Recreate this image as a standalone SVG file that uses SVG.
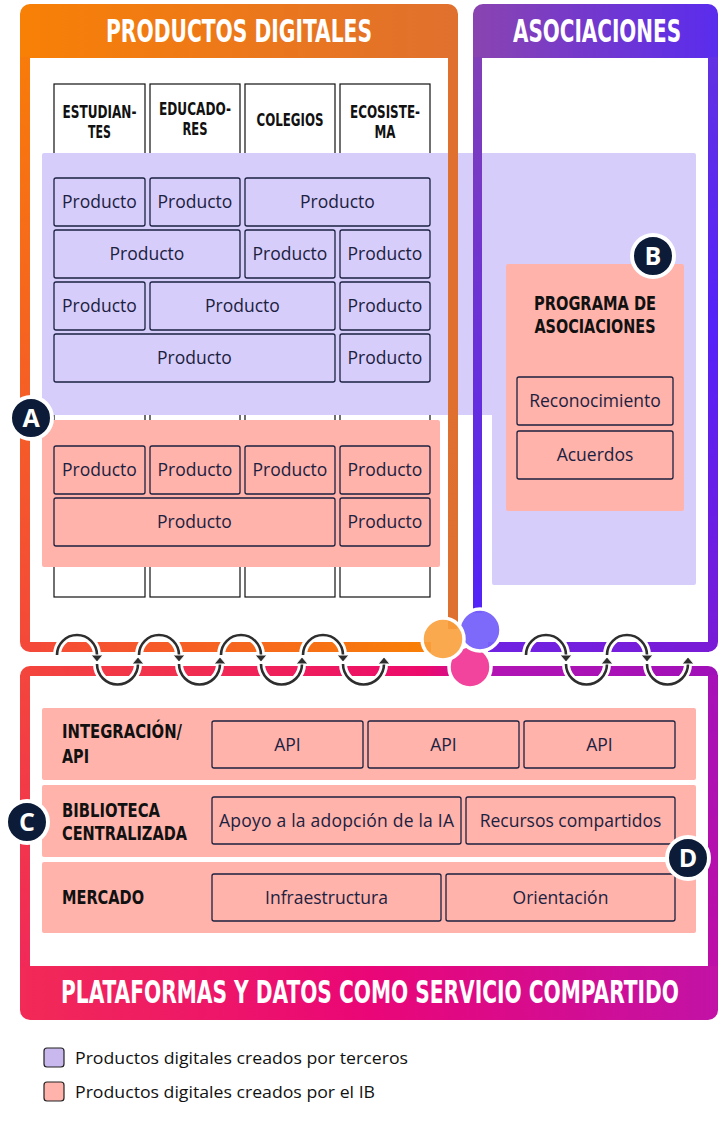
<svg xmlns="http://www.w3.org/2000/svg" width="720" height="1130" viewBox="0 0 720 1130">
<style>
.cond{font-family:"Liberation Sans Narrow","DejaVu Sans Condensed","Liberation Sans",sans-serif;font-weight:700}
.hd{fill:#fff;font-size:21px}
.col{fill:#111;font-size:17px}
.lbl{fill:#111;font-size:20px}
.txt{font-family:"Open Sans","Noto Sans","Liberation Sans",sans-serif;font-size:17.5px;fill:#1b2140;text-anchor:middle}
.lg{font-family:"Open Sans","Noto Sans","Liberation Sans",sans-serif;font-size:17px;fill:#111}
.box{fill:none;stroke:#1b2140;stroke-width:1.3}
.colbox{fill:#fff;stroke:#111;stroke-width:1.2}
.pink{fill:#ffb3ab}
.lav{fill:#d7cdfb}
.halo{fill:none;stroke:#fff;stroke-width:8}
.arc{fill:none;stroke:#2e2e2e;stroke-width:2.6}
.ah{fill:#2e2e2e;stroke:#fff;stroke-width:1}
.bdg{fill:#0c1c38;stroke:#fff;stroke-width:4}
.bt{font-family:"Open Sans","Noto Sans","Liberation Sans",sans-serif;font-weight:700;font-size:25px;fill:#fff;text-anchor:middle}
</style>
<defs>
<linearGradient id="gOH" gradientUnits="userSpaceOnUse" x1="20" y1="0" x2="458" y2="0"><stop offset="0" stop-color="#f88006"/><stop offset="1" stop-color="#e0702e"/></linearGradient>
<linearGradient id="gOL" gradientUnits="userSpaceOnUse" x1="0" y1="4" x2="0" y2="652"><stop offset="0" stop-color="#f88006"/><stop offset="1" stop-color="#f4483a"/></linearGradient>
<linearGradient id="gOB" gradientUnits="userSpaceOnUse" x1="20" y1="0" x2="430" y2="0"><stop offset="0" stop-color="#f4483a"/><stop offset="1" stop-color="#f88006"/></linearGradient>
<linearGradient id="gOR" gradientUnits="userSpaceOnUse" x1="0" y1="4" x2="0" y2="630"><stop offset="0" stop-color="#e0702e"/><stop offset="1" stop-color="#de7030"/></linearGradient>
<linearGradient id="gPH" gradientUnits="userSpaceOnUse" x1="473" y1="0" x2="718" y2="0"><stop offset="0" stop-color="#8a44b0"/><stop offset="1" stop-color="#5a2ced"/></linearGradient>
<linearGradient id="gPL" gradientUnits="userSpaceOnUse" x1="0" y1="4" x2="0" y2="612"><stop offset="0" stop-color="#8642b2"/><stop offset="1" stop-color="#5222f8"/></linearGradient>
<linearGradient id="gPR" gradientUnits="userSpaceOnUse" x1="0" y1="4" x2="0" y2="652"><stop offset="0" stop-color="#6434de"/><stop offset="0.5" stop-color="#5522f8"/><stop offset="1" stop-color="#7a1bd6"/></linearGradient>
<linearGradient id="gPB" gradientUnits="userSpaceOnUse" x1="488" y1="0" x2="718" y2="0"><stop offset="0" stop-color="#6f22e2"/><stop offset="1" stop-color="#7a1bd6"/></linearGradient>
<linearGradient id="gBT" gradientUnits="userSpaceOnUse" x1="20" y1="0" x2="718" y2="0"><stop offset="0" stop-color="#f4463c"/><stop offset="0.58" stop-color="#ec0a6c"/><stop offset="0.68" stop-color="#b214b4"/><stop offset="1" stop-color="#a010b8"/></linearGradient>
<linearGradient id="gBL" gradientUnits="userSpaceOnUse" x1="0" y1="666" x2="0" y2="1020"><stop offset="0" stop-color="#f4463c"/><stop offset="1" stop-color="#f0245e"/></linearGradient>
<linearGradient id="gBR" gradientUnits="userSpaceOnUse" x1="0" y1="666" x2="0" y2="1020"><stop offset="0" stop-color="#a512b8"/><stop offset="1" stop-color="#c20ea4"/></linearGradient>
<linearGradient id="gBF" gradientUnits="userSpaceOnUse" x1="20" y1="0" x2="718" y2="0"><stop offset="0" stop-color="#f22a56"/><stop offset="0.5" stop-color="#ea0677"/><stop offset="1" stop-color="#c212a6"/></linearGradient>
</defs>
<rect width="720" height="1130" fill="#fff"/>

<g id="columns">
<rect class="colbox" x="54" y="84" width="91" height="513"/>
<rect class="colbox" x="150" y="84" width="90" height="513"/>
<rect class="colbox" x="245" y="84" width="90" height="513"/>
<rect class="colbox" x="340" y="84" width="90" height="513"/>
<text class="cond col" x="99.5" y="118" text-anchor="middle" textLength="74" lengthAdjust="spacingAndGlyphs">ESTUDIAN-</text>
<text class="cond col" x="99.5" y="138" text-anchor="middle" textLength="23" lengthAdjust="spacingAndGlyphs">TES</text>
<text class="cond col" x="195" y="115" text-anchor="middle" textLength="72" lengthAdjust="spacingAndGlyphs">EDUCADO-</text>
<text class="cond col" x="195" y="135" text-anchor="middle" textLength="25" lengthAdjust="spacingAndGlyphs">RES</text>
<text class="cond col" x="290" y="126" text-anchor="middle" textLength="67" lengthAdjust="spacingAndGlyphs">COLEGIOS</text>
<text class="cond col" x="385" y="118" text-anchor="middle" textLength="70" lengthAdjust="spacingAndGlyphs">ECOSISTE-</text>
<text class="cond col" x="385" y="138" text-anchor="middle" textLength="21" lengthAdjust="spacingAndGlyphs">MA</text>
</g>

<g id="third-party-products">
<path class="lav" d="M42,155 Q42,153 44,153 H694 Q696,153 696,155 V583 Q696,585 694,585 H494 Q492,585 492,583 V415 H44 Q42,415 42,413 Z"/>
<rect class="box" x="54" y="178" width="91" height="48" rx="2"/><text class="txt" x="99.5" y="207.5">Producto</text>
<rect class="box" x="150" y="178" width="90" height="48" rx="2"/><text class="txt" x="195" y="207.5">Producto</text>
<rect class="box" x="245" y="178" width="185" height="48" rx="2"/><text class="txt" x="337.5" y="207.5">Producto</text>
<rect class="box" x="54" y="230" width="186" height="48" rx="2"/><text class="txt" x="147" y="259.5">Producto</text>
<rect class="box" x="245" y="230" width="90" height="48" rx="2"/><text class="txt" x="290" y="259.5">Producto</text>
<rect class="box" x="340" y="230" width="90" height="48" rx="2"/><text class="txt" x="385" y="259.5">Producto</text>
<rect class="box" x="54" y="282" width="91" height="48" rx="2"/><text class="txt" x="99.5" y="311.5">Producto</text>
<rect class="box" x="150" y="282" width="185" height="48" rx="2"/><text class="txt" x="242.5" y="311.5">Producto</text>
<rect class="box" x="340" y="282" width="90" height="48" rx="2"/><text class="txt" x="385" y="311.5">Producto</text>
<rect class="box" x="54" y="334" width="281" height="48" rx="2"/><text class="txt" x="194.5" y="363.5">Producto</text>
<rect class="box" x="340" y="334" width="90" height="48" rx="2"/><text class="txt" x="385" y="363.5">Producto</text>
</g>

<g id="ib-products">
<rect class="pink" x="42" y="420" width="398" height="147" rx="2"/>
<rect class="box" x="54" y="446" width="91" height="48" rx="2"/><text class="txt" x="99.5" y="475.5">Producto</text>
<rect class="box" x="150" y="446" width="90" height="48" rx="2"/><text class="txt" x="195" y="475.5">Producto</text>
<rect class="box" x="245" y="446" width="90" height="48" rx="2"/><text class="txt" x="290" y="475.5">Producto</text>
<rect class="box" x="340" y="446" width="90" height="48" rx="2"/><text class="txt" x="385" y="475.5">Producto</text>
<rect class="box" x="54" y="498" width="281" height="48" rx="2"/><text class="txt" x="194.5" y="527.5">Producto</text>
<rect class="box" x="340" y="498" width="90" height="48" rx="2"/><text class="txt" x="385" y="527.5">Producto</text>
</g>

<g id="programa-asociaciones">
<rect class="pink" x="506" y="264" width="178" height="247" rx="2"/>
<text class="cond lbl" x="595" y="310" text-anchor="middle" textLength="122" lengthAdjust="spacingAndGlyphs">PROGRAMA DE</text>
<text class="cond lbl" x="595" y="333" text-anchor="middle" textLength="121" lengthAdjust="spacingAndGlyphs">ASOCIACIONES</text>
<rect class="box" x="517" y="377" width="156" height="48" rx="2"/><text class="txt" x="595" y="406.5">Reconocimiento</text>
<rect class="box" x="517" y="431" width="156" height="48" rx="2"/><text class="txt" x="595" y="460.5">Acuerdos</text>
</g>

<g id="panel-productos-digitales">
<path fill="url(#gOH)" d="M20,58 V14 A10,10 0 0 1 30,4 H448 A10,10 0 0 1 458,14 V58 Z"/>
<path fill="url(#gOL)" d="M20,57 H30 V642 H42 V652 H30 A10,10 0 0 1 20,642 Z"/>
<rect fill="url(#gOB)" x="41" y="642" width="390" height="10"/>
<rect fill="url(#gOR)" x="448" y="57" width="10" height="572"/>
<text class="cond hd" transform="translate(239,42) scale(1,1.55)" text-anchor="middle" textLength="266" lengthAdjust="spacingAndGlyphs">PRODUCTOS DIGITALES</text>
</g>

<g id="panel-asociaciones">
<path fill="url(#gPH)" d="M473,58 V14 A10,10 0 0 1 483,4 H708 A10,10 0 0 1 718,14 V58 Z"/>
<rect fill="url(#gPL)" x="473" y="57" width="9" height="556"/>
<path fill="url(#gPR)" d="M708,57 H718 V642 A10,10 0 0 1 708,652 Z"/>
<rect fill="url(#gPB)" x="488" y="642" width="221" height="10"/>
<text class="cond hd" transform="translate(597,42) scale(1,1.55)" text-anchor="middle" textLength="168" lengthAdjust="spacingAndGlyphs">ASOCIACIONES</text>
</g>

<g id="panel-plataformas">
<path fill="url(#gBT)" d="M20,676 A10,10 0 0 1 30,666 H708 A10,10 0 0 1 718,676 Z"/>
<rect fill="url(#gBL)" x="20" y="675" width="10" height="292"/>
<rect fill="url(#gBR)" x="708" y="675" width="10" height="292"/>
<path fill="url(#gBF)" d="M20,966 H718 V1010 A10,10 0 0 1 708,1020 H30 A10,10 0 0 1 20,1010 Z"/>
<text class="cond hd" transform="translate(370,1003) scale(1,1.55)" text-anchor="middle" textLength="618" lengthAdjust="spacingAndGlyphs">PLATAFORMAS Y DATOS COMO SERVICIO COMPARTIDO</text>
</g>

<g id="row-integracion">
<rect class="pink" x="42" y="708" width="654" height="72" rx="2"/>
<text class="cond lbl" x="62" y="738" textLength="120" lengthAdjust="spacingAndGlyphs">INTEGRACIÓN/</text>
<text class="cond lbl" x="62" y="763" textLength="27" lengthAdjust="spacingAndGlyphs">API</text>
<rect class="box" x="212" y="721" width="151" height="47" rx="2"/><text class="txt" x="287.5" y="750.5">API</text>
<rect class="box" x="368" y="721" width="151" height="47" rx="2"/><text class="txt" x="443.5" y="750.5">API</text>
<rect class="box" x="524" y="721" width="151" height="47" rx="2"/><text class="txt" x="599.5" y="750.5">API</text>
</g>

<g id="row-biblioteca">
<rect class="pink" x="42" y="785" width="654" height="72" rx="2"/>
<text class="cond lbl" x="62" y="817" textLength="98" lengthAdjust="spacingAndGlyphs">BIBLIOTECA</text>
<text class="cond lbl" x="62" y="840" textLength="125" lengthAdjust="spacingAndGlyphs">CENTRALIZADA</text>
<rect class="box" x="212" y="797" width="249" height="47" rx="2"/><text class="txt" x="336.5" y="826.5" textLength="235" lengthAdjust="spacing">Apoyo a la adopción de la IA</text>
<rect class="box" x="466" y="797" width="209" height="47" rx="2"/><text class="txt" x="570.5" y="826.5">Recursos compartidos</text>
</g>

<g id="row-mercado">
<rect class="pink" x="42" y="862" width="654" height="71" rx="2"/>
<text class="cond lbl" x="62" y="904" textLength="82" lengthAdjust="spacingAndGlyphs">MERCADO</text>
<rect class="box" x="212" y="874" width="229" height="47" rx="2"/><text class="txt" x="326.5" y="903.5">Infraestructura</text>
<rect class="box" x="446" y="874" width="229" height="47" rx="2"/><text class="txt" x="560.5" y="903.5">Orientación</text>
</g>

<g id="connectors">
<g id="halos">
<path class="halo" d="M57,655 A20,20 0 0 1 97,655 M139,655 A20,20 0 0 1 179,655 M221,655 A20,20 0 0 1 261,655 M303,655 A20,20 0 0 1 343,655 M526,655 A20,20 0 0 1 566,655 M607,655 A20,20 0 0 1 647,655"/>
<path class="halo" d="M97,664 A20.5,20.5 0 0 0 138,664 M179,664 A20.5,20.5 0 0 0 220,664 M261,664 A20.5,20.5 0 0 0 302,664 M343,664 A20.5,20.5 0 0 0 384,664 M566,664 A20.5,20.5 0 0 0 607,664 M647,664 A20.5,20.5 0 0 0 688,664"/>
</g>
<path class="arc" d="M57,655 A20,20 0 0 1 97,655 M139,655 A20,20 0 0 1 179,655 M221,655 A20,20 0 0 1 261,655 M303,655 A20,20 0 0 1 343,655 M526,655 A20,20 0 0 1 566,655 M607,655 A20,20 0 0 1 647,655"/>
<path class="arc" d="M97,664 A20.5,20.5 0 0 0 138,664 M179,664 A20.5,20.5 0 0 0 220,664 M261,664 A20.5,20.5 0 0 0 302,664 M343,664 A20.5,20.5 0 0 0 384,664 M566,664 A20.5,20.5 0 0 0 607,664 M647,664 A20.5,20.5 0 0 0 688,664"/>
<g id="arrowheads">
<polygon class="ah" points="91,655 103,655 97,662"/>
<polygon class="ah" points="173,655 185,655 179,662"/>
<polygon class="ah" points="255,655 267,655 261,662"/>
<polygon class="ah" points="337,655 349,655 343,662"/>
<polygon class="ah" points="560,655 572,655 566,662"/>
<polygon class="ah" points="641,655 653,655 647,662"/>
<polygon class="ah" points="132,664 144,664 138,657"/>
<polygon class="ah" points="214,664 226,664 220,657"/>
<polygon class="ah" points="296,664 308,664 302,657"/>
<polygon class="ah" points="378,664 390,664 384,657"/>
<polygon class="ah" points="601,664 613,664 607,657"/>
<polygon class="ah" points="682,664 694,664 688,657"/>
</g>
</g>

<g id="junction">
<circle cx="470" cy="667" r="21" fill="#f2449c" stroke="#fff" stroke-width="3.5"/>
<circle cx="480" cy="630" r="21" fill="#7661fa" fill-opacity="0.95" stroke="#fff" stroke-width="3.5"/>
<circle cx="443" cy="639" r="21" fill="#f9a03c" fill-opacity="0.9" stroke="#fff" stroke-width="3.5"/>
</g>

<g id="badge-A"><circle class="bdg" cx="31" cy="418" r="21"/><text class="bt" x="31" y="427">A</text></g>
<g id="badge-B"><circle class="bdg" cx="653" cy="256" r="21"/><text class="bt" x="653" y="265">B</text></g>
<g id="badge-C"><circle class="bdg" cx="27" cy="822" r="21"/><text class="bt" x="27" y="831">C</text></g>
<g id="badge-D"><circle class="bdg" cx="688" cy="858" r="21"/><text class="bt" x="688" y="867">D</text></g>

<g id="legend">
<rect x="44" y="1048" width="20" height="19" rx="3" fill="#c9b8ee" stroke="#222" stroke-width="1.2"/>
<text class="lg" x="75" y="1064" textLength="333" lengthAdjust="spacingAndGlyphs">Productos digitales creados por terceros</text>
<rect x="44" y="1082" width="20" height="19" rx="3" fill="#ffb3ab" stroke="#222" stroke-width="1.2"/>
<text class="lg" x="75" y="1098" textLength="300" lengthAdjust="spacingAndGlyphs">Productos digitales creados por el IB</text>
</g>
</svg>
